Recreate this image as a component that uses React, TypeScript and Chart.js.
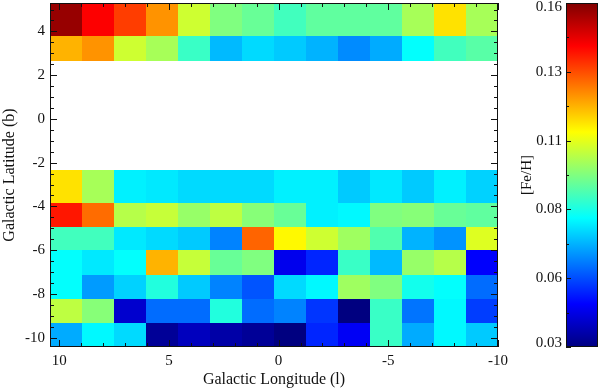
import { useEffect, useRef } from "react";
import { Chart, registerables } from "chart.js";
Chart.register(...registerables);

// Galactic longitude bin edges (left to right on the plot, l decreasing)
const lEdges = [10.42, 8.965, 7.507, 6.048, 4.59, 3.131, 1.673, 0.214, -1.245, -2.703, -4.162, -5.62, -7.079, -8.537, -10.0];

// Galactic latitude bin edges for each row (bottom, top)
const rowB0 = [-10.43, -9.33, -8.23, -7.12, -6.01, -4.96, -3.84, 2.67, 3.8];
const rowB1 = [-9.33, -8.23, -7.12, -6.01, -4.96, -3.84, -2.35, 3.8, 5.3];

// [Fe/H] per row, listed from the lowest latitude upwards, each left to right
const fehRow1 = [0.068, 0.078, 0.074, 0.033, 0.038, 0.035, 0.033, 0.030, 0.051, 0.045, 0.086, 0.068, 0.078, 0.072];
const fehRow2 = [0.103, 0.096, 0.040, 0.060, 0.060, 0.083, 0.060, 0.063, 0.053, 0.030, 0.086, 0.061, 0.078, 0.054];
const fehRow3 = [0.079, 0.066, 0.073, 0.083, 0.072, 0.063, 0.057, 0.074, 0.078, 0.099, 0.095, 0.081, 0.079, 0.060];
const fehRow4 = [0.079, 0.076, 0.079, 0.121, 0.104, 0.092, 0.095, 0.044, 0.051, 0.086, 0.070, 0.098, 0.102, 0.046];
const fehRow5 = [0.087, 0.087, 0.076, 0.074, 0.072, 0.063, 0.131, 0.112, 0.105, 0.099, 0.089, 0.069, 0.065, 0.107];
const fehRow6 = [0.141, 0.130, 0.102, 0.104, 0.098, 0.103, 0.096, 0.092, 0.077, 0.078, 0.095, 0.096, 0.092, 0.091];
const fehRow7 = [0.115, 0.100, 0.077, 0.076, 0.074, 0.074, 0.074, 0.077, 0.077, 0.072, 0.076, 0.072, 0.077, 0.073];
const fehRow8 = [0.121, 0.125, 0.105, 0.100, 0.086, 0.070, 0.074, 0.072, 0.069, 0.064, 0.068, 0.079, 0.087, 0.090];
const fehRow9 = [0.157, 0.144, 0.136, 0.125, 0.105, 0.095, 0.092, 0.087, 0.091, 0.091, 0.091, 0.100, 0.115, 0.100];
const fehRows = [fehRow1, fehRow2, fehRow3, fehRow4, fehRow5, fehRow6, fehRow7, fehRow8, fehRow9];

const xTicks = [10, 5, 0, -5, -10];
const yTicks = [4, 2, 0, -2, -4, -6, -8, -10];
const cbTickValues = [0.03, 0.056, 0.082, 0.108, 0.134, 0.16];
const cbTickLabels = ["0.03", "0.06", "0.08", "0.11", "0.13", "0.16"];
const fehMin = 0.03;
const fehMax = 0.16;

const FONT = "'Liberation Serif', 'Times New Roman', serif";
const TEXT = "#111";

function jet(t: number): string {
  const c = (v: number) => Math.round(255 * Math.max(0, Math.min(1, v)));
  const r = c(1.5 - Math.abs(4 * t - 3));
  const g = c(1.5 - Math.abs(4 * t - 2));
  const b = c(1.5 - Math.abs(4 * t - 1));
  return `rgb(${r},${g},${b})`;
}

const heatPlugin = {
  id: "heat",
  beforeDatasetsDraw(chart: any) {
    const { ctx } = chart;
    const x = chart.scales.x;
    const y = chart.scales.y;
    ctx.save();
    fehRows.forEach((row, ri) => {
      const ya = Math.round(y.getPixelForValue(rowB0[ri]));
      const yb = Math.round(y.getPixelForValue(rowB1[ri]));
      row.forEach((v, i) => {
        const xa = Math.round(x.getPixelForValue(lEdges[i]));
        const xb = Math.round(x.getPixelForValue(lEdges[i + 1]));
        ctx.fillStyle = jet((v - fehMin) / (fehMax - fehMin));
        ctx.fillRect(Math.min(xa, xb), Math.min(ya, yb), Math.abs(xb - xa), Math.abs(yb - ya));
      });
    });
    ctx.restore();
  },
  afterDraw(chart: any) {
    const { ctx, chartArea: a } = chart;
    const x = chart.scales.x;
    const y = chart.scales.y;
    ctx.save();
    ctx.strokeStyle = "#111";
    ctx.lineWidth = 1;
    ctx.strokeRect(a.left + 0.5, a.top + 0.5, a.right - a.left - 1, a.bottom - a.top - 1);
    ctx.beginPath();
    for (let v = -10; v <= 10; v += 1) {
      const px = Math.round(x.getPixelForValue(v)) + 0.5;
      const len = v % 5 === 0 ? 7 : 4;
      ctx.moveTo(px, a.bottom);
      ctx.lineTo(px, a.bottom - len);
      ctx.moveTo(px, a.top);
      ctx.lineTo(px, a.top + len);
    }
    for (let v = -10; v <= 5; v += 0.5) {
      const py = Math.round(y.getPixelForValue(v)) + 0.5;
      const len = Math.abs(v % 2) < 1e-9 ? 7 : 4;
      ctx.moveTo(a.left, py);
      ctx.lineTo(a.left + len, py);
      ctx.moveTo(a.right, py);
      ctx.lineTo(a.right - len, py);
    }
    ctx.stroke();
    ctx.restore();
  },
};

const barPlugin = {
  id: "cbar",
  beforeDatasetsDraw(chart: any) {
    const { ctx, chartArea: a } = chart;
    const y = chart.scales.y;
    const g = ctx.createLinearGradient(0, y.getPixelForValue(fehMin), 0, y.getPixelForValue(fehMax));
    [0, 0.125, 0.375, 0.625, 0.875, 1].forEach((t) => g.addColorStop(t, jet(t)));
    ctx.save();
    ctx.fillStyle = g;
    ctx.fillRect(a.left, a.top, a.right - a.left, a.bottom - a.top);
    ctx.restore();
  },
  afterDraw(chart: any) {
    const { ctx, chartArea: a } = chart;
    const y = chart.scales.y;
    ctx.save();
    ctx.strokeStyle = "#111";
    ctx.lineWidth = 1;
    ctx.strokeRect(a.left + 0.5, a.top + 0.5, a.right - a.left - 1, a.bottom - a.top - 1);
    ctx.beginPath();
    for (let i = 0; i < cbTickValues.length; i++) {
      const py = Math.round(y.getPixelForValue(cbTickValues[i])) + 0.5;
      ctx.moveTo(a.left, py);
      ctx.lineTo(a.left + 5, py);
      if (i < cbTickValues.length - 1) {
        const pm = Math.round(y.getPixelForValue((cbTickValues[i] + cbTickValues[i + 1]) / 2)) + 0.5;
        ctx.moveTo(a.left, pm);
        ctx.lineTo(a.left + 3, pm);
      }
    }
    ctx.stroke();
    ctx.restore();
  },
};

export default function App() {
  const mainRef = useRef<HTMLCanvasElement>(null);
  const barRef = useRef<HTMLCanvasElement>(null);

  useEffect(() => {
    const font = { family: FONT, size: 15 };
    const titleFont = { family: FONT, size: 16, lineHeight: 1.1 };
    const main = new Chart(mainRef.current!, {
      type: "scatter",
      data: { datasets: [] },
      options: {
        responsive: false,
        animation: false,
        devicePixelRatio: 1,
        layout: { padding: { top: 3, right: 22, left: 0, bottom: 0 } },
        plugins: { legend: { display: false }, tooltip: { enabled: false } },
        scales: {
          x: {
            type: "linear",
            reverse: true,
            min: -10,
            max: 10.42,
            afterBuildTicks: (s: any) => {
              s.ticks = xTicks.map((v) => ({ value: v }));
            },
            afterFit: (s: any) => {
              s.height = 44;
              s.paddingLeft = 0;
              s.paddingRight = 0;
            },
            grid: { display: false, drawTicks: false },
            border: { display: false },
            ticks: { font, color: TEXT, padding: 5, maxRotation: 0, autoSkip: false, callback: (v: any) => String(v) },
            title: { display: true, text: "Galactic Longitude (l)", font: titleFont, color: TEXT, padding: { top: 0, bottom: 2 } },
          },
          y: {
            type: "linear",
            min: -10.43,
            max: 5.3,
            afterBuildTicks: (s: any) => {
              s.ticks = yTicks.map((v) => ({ value: v }));
            },
            afterFit: (s: any) => {
              s.width = 50;
              s.paddingTop = 0;
              s.paddingBottom = 0;
            },
            grid: { display: false, drawTicks: false },
            border: { display: false },
            ticks: { font, color: TEXT, padding: 5, autoSkip: false, callback: (v: any) => String(v) },
            title: { display: true, text: "Galactic Latitude (b)", font: titleFont, color: TEXT, padding: { top: 1, bottom: 0 } },
          },
        },
      },
      plugins: [heatPlugin],
    } as any);

    const bar = new Chart(barRef.current!, {
      type: "scatter",
      data: { datasets: [] },
      options: {
        responsive: false,
        animation: false,
        devicePixelRatio: 1,
        layout: { padding: { top: 3, right: 2, left: 0, bottom: 44 } },
        plugins: { legend: { display: false }, tooltip: { enabled: false } },
        scales: {
          x: { display: false, min: 0, max: 1 },
          y: {
            type: "linear",
            min: fehMin,
            max: fehMax,
            afterBuildTicks: (s: any) => {
              const inset = (fehMax - fehMin) * 0.011;
              s.ticks = cbTickValues.map((v) => ({
                value: Math.min(fehMax - inset, Math.max(fehMin + inset, v)),
              }));
            },
            afterFit: (s: any) => {
              s.width = 46;
              s.paddingTop = 0;
              s.paddingBottom = 0;
            },
            grid: { display: false, drawTicks: false },
            border: { display: false },
            ticks: { font, color: TEXT, padding: 4, autoSkip: false, callback: (_v: any, i: number) => cbTickLabels[i] },
            title: { display: true, text: "[Fe/H]", font: { family: FONT, size: 15, lineHeight: 1 }, color: TEXT, padding: { top: 0, bottom: 0 } },
          },
        },
      },
      plugins: [barPlugin],
    } as any);

    return () => {
      main.destroy();
      bar.destroy();
    };
  }, []);

  return (
    <div style={{ position: "fixed", left: 0, top: 0, width: 600, height: 391, background: "#fff" }}>
      <canvas ref={mainRef} width={520} height={391} style={{ position: "absolute", left: 0, top: 0 }} />
      <canvas ref={barRef} width={80} height={391} style={{ position: "absolute", left: 520, top: 0 }} />
    </div>
  );
}
